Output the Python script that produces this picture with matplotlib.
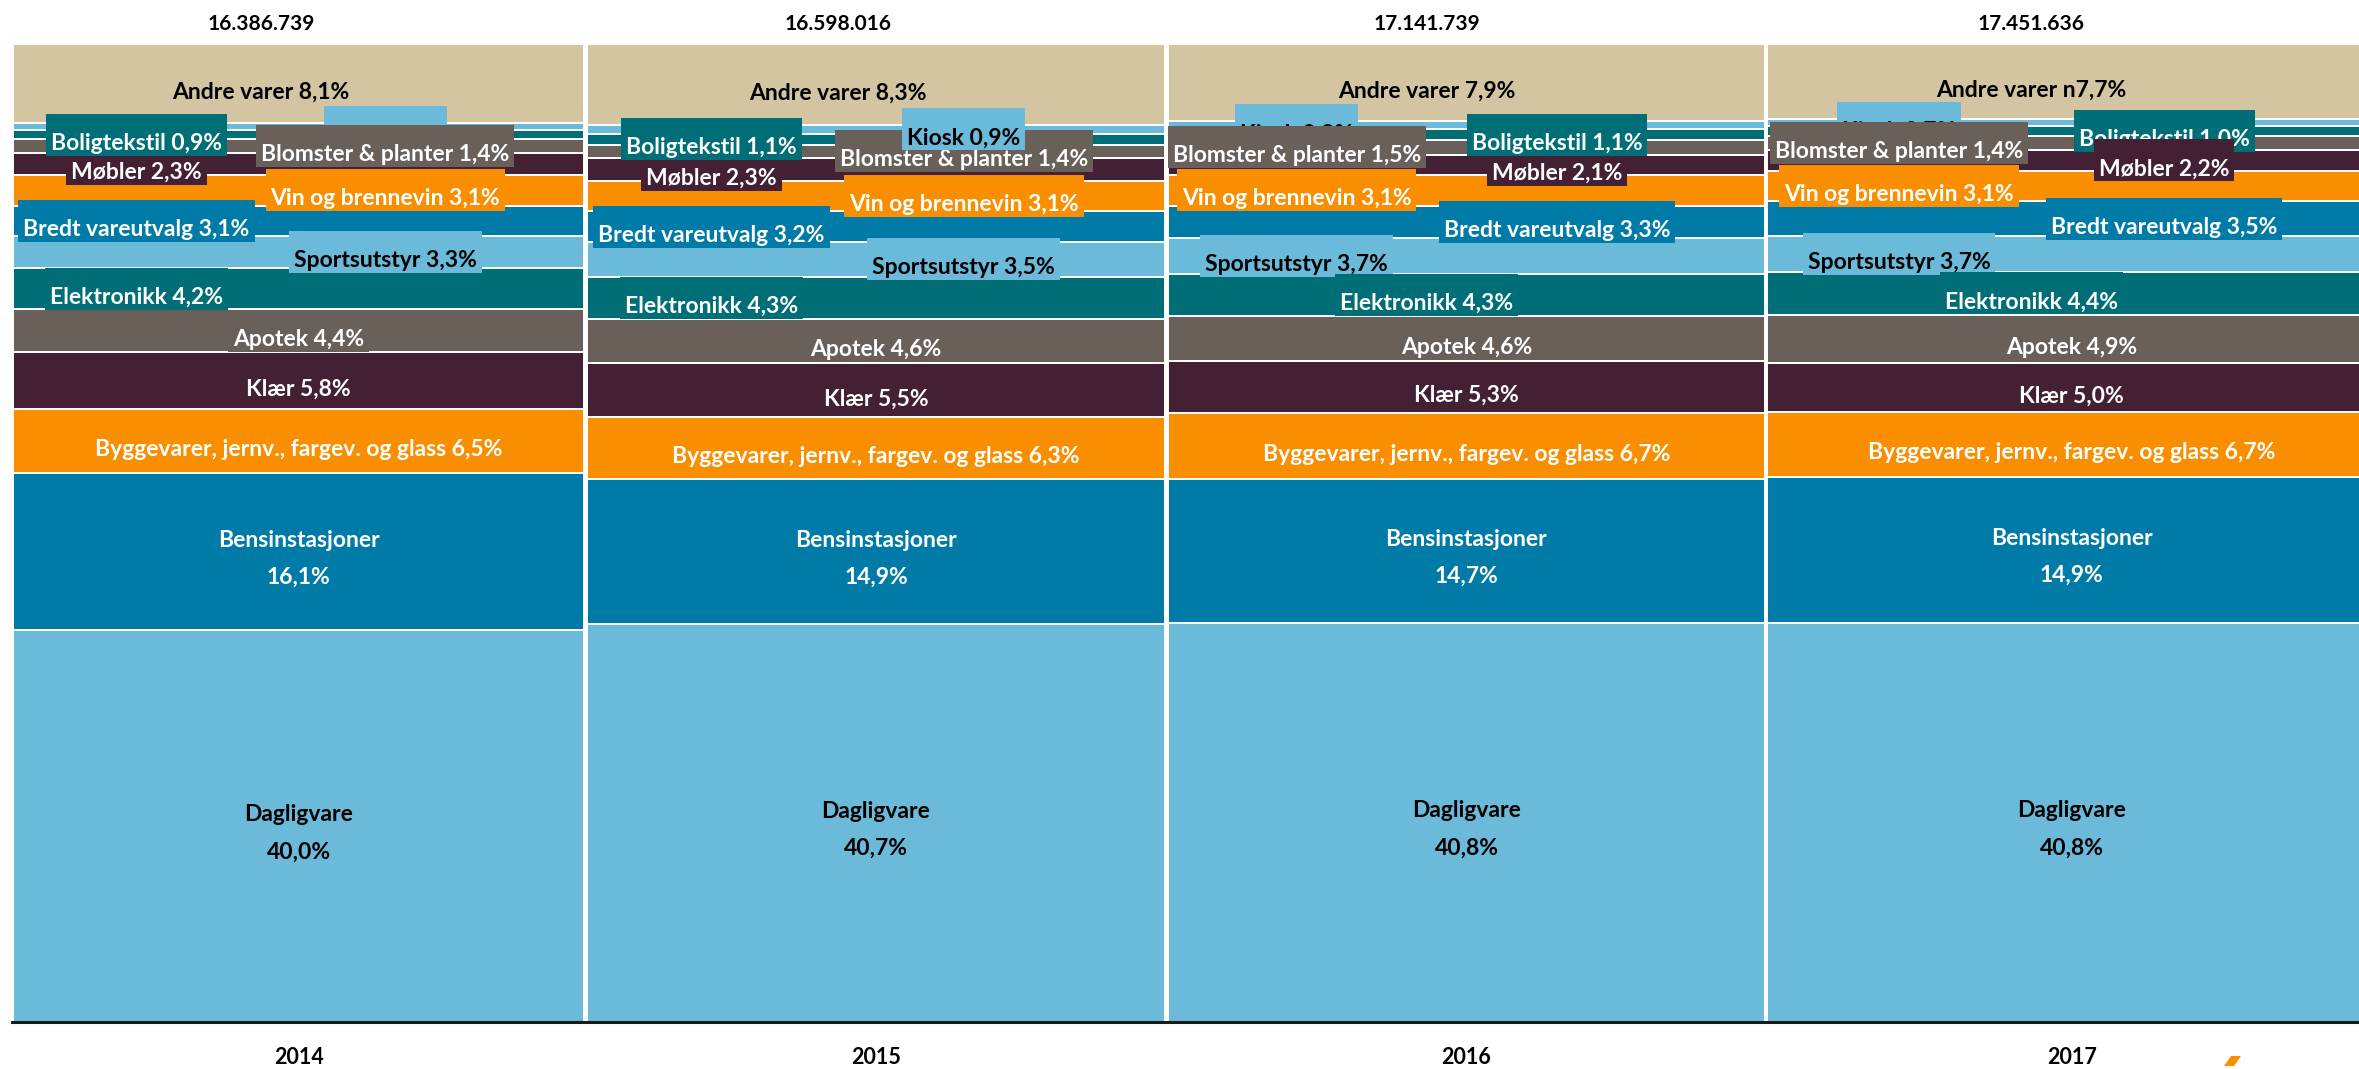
import matplotlib.pyplot as plt
from matplotlib.patches import Polygon, Rectangle
import numpy as np

# Data
years = ['2014', '2015', '2016', '2017']
totals = [16386739, 16598016, 17141739, 17451636]
total_labels = ['16.386.739', '16.598.016', '17.141.739', '17.451.636']

categories = ['Dagligvare', 'Bensinstasjoner', 'Byggevarer, jernv., fargev. og glass', 'Klær',
              'Apotek', 'Elektronikk', 'Sportsutstyr', 'Bredt vareutvalg', 'Vin og brennevin',
              'Møbler', 'Blomster & planter', 'Boligtekstil', 'Kiosk', 'Andre varer']

shares_2014 = [40.0, 16.1, 6.5, 5.8, 4.4, 4.2, 3.3, 3.1, 3.1, 2.3, 1.4, 0.9, 0.7, 8.1]
shares_2015 = [40.7, 14.9, 6.3, 5.5, 4.6, 4.3, 3.5, 3.2, 3.1, 2.3, 1.4, 1.1, 0.9, 8.3]
shares_2016 = [40.8, 14.7, 6.7, 5.3, 4.6, 4.3, 3.7, 3.3, 3.1, 2.1, 1.5, 1.1, 0.8, 7.9]
shares_2017 = [40.8, 14.9, 6.7, 5.0, 4.9, 4.4, 3.7, 3.5, 3.1, 2.2, 1.4, 1.0, 0.7, 7.7]
shares = [shares_2014, shares_2015, shares_2016, shares_2017]

# label text overrides (typo kept from the original)
name_override = {('2017', 'Andre varer'): 'Andre varer n'}

# Style
light_blue = '#6BBAD9'
blue = '#007AA7'
orange = '#F88E00'
purple = '#432034'
grey = '#6A605A'
teal = '#006E76'
beige = '#D3C5A1'
colors = [light_blue, blue, orange, purple, grey, teal, light_blue, blue, orange,
          purple, grey, teal, light_blue, beige]
dark_text = {'Dagligvare', 'Sportsutstyr', 'Kiosk', 'Andre varer'}
two_line = {'Dagligvare', 'Bensinstasjoner'}

# label placement: M = middle of column, C = shifted centre, L/R = left/right
sides_a = ['M', 'M', 'M', 'M', 'M', 'L', 'R', 'L', 'R', 'L', 'R', 'L', 'R', 'C']
sides_b = ['M', 'M', 'M', 'M', 'M', 'C', 'L', 'R', 'L', 'R', 'L', 'R', 'L', 'C']
sides = [sides_a, sides_a, sides_b, sides_b]
# labels drawn above their overlapping neighbours
label_on_top = {'2014': ['Boligtekstil'], '2015': ['Boligtekstil', 'Kiosk'],
                '2016': ['Boligtekstil'], '2017': []}

W, H = 2359, 1069
fig = plt.figure(figsize=(W / 100, H / 100), dpi=100)
ax_left, ax_right, ax_top, ax_bottom = 12, 2359, 44, 1022
ax = fig.add_axes([ax_left / W, 1 - ax_bottom / H, (ax_right - ax_left) / W, (ax_bottom - ax_top) / H])

font = ['Lato', 'DejaVu Sans']
fs = 16.5
px_per_unit = 35.0  # pixels per million
xmax = (ax_right - ax_left) / px_per_unit
ax.set_xlim(0, xmax)
ax.set_ylim(0, 100)
ypx = 100 / (ax_bottom - ax_top)  # data units per pixel (y)
xpx = 1 / px_per_unit


def py(pix):
    # figure pixel (from top) -> data y
    return (ax_bottom - pix) * ypx


widths = np.array(totals) / 1e6
starts = np.concatenate([[0], np.cumsum(widths)[:-1]])

boxed = []
for j, year in enumerate(years):
    vals = np.array(shares[j])
    vals = vals / vals.sum() * 100
    bottoms = np.concatenate([[0], np.cumsum(vals)[:-1]])
    x0 = starts[j]
    w = widths[j]
    ax.bar(x0 + 0.03, vals, width=w - 0.06, bottom=bottoms, align='edge',
           color=colors, edgecolor='white', linewidth=1.4, zorder=2)

    centre = x0 + w / 2
    shift = -0.066 * w
    side_off = 0.217 * w
    for i, cat in enumerate(categories):
        s = sides[j][i]
        if s == 'M':
            lx = centre
        elif s == 'C':
            lx = centre + shift
        elif s == 'L':
            lx = centre + shift - side_off
        else:
            lx = centre + shift + side_off
        ly = bottoms[i] + vals[i] / 2
        pct = '{:.1f}%'.format(shares[j][i]).replace('.', ',')
        tcol = 'black' if cat in dark_text else 'white'
        kw = dict(ha='center', va='baseline', color=tcol, fontsize=fs,
                  fontweight='bold', family=font)
        if cat in two_line:
            ax.text(lx, ly + 5 * ypx, cat, zorder=10, **kw)
            ax.text(lx, ly - 32 * ypx, pct, zorder=10, **kw)
            continue
        name = name_override.get((year, cat), cat + ' ')
        z = 10 + (len(categories) - i) * 0.01
        if cat in label_on_top[year]:
            z += 1
        t = ax.text(lx, ly - 15 * ypx, name + pct, zorder=z, **kw)
        boxed.append((t, lx, ly, colors[i], z))

    # total on top and year below
    ax.text(centre + shift, py(24), total_labels[j], ha='center', va='center',
            fontsize=15, fontweight='bold', family=font, color='black', clip_on=False)
    ax.text(centre, py(1058), year, ha='center', va='center',
            fontsize=15.5, fontweight='bold', family=font, color='black', clip_on=False)

# label boxes in the segment colour, sized from the rendered text
renderer = fig.canvas.get_renderer()
pad_x, box_h = 5, 42
for t, lx, ly, col, z in boxed:
    tw = t.get_window_extent(renderer).width
    bw = (tw + 2 * pad_x) * xpx
    ax.add_patch(Rectangle((lx - bw / 2, ly - box_h / 2 * ypx), bw, box_h * ypx,
                           facecolor=col, edgecolor='none', zorder=z - 0.005))

ax.axhline(0, color='#1a1a1a', linewidth=2.2, zorder=5, clip_on=False)
for sp in ax.spines.values():
    sp.set_visible(False)
ax.set_xticks([])
ax.set_yticks([])

# small orange logo fragment in the corner
pts = [(2224, 1066), (2231, 1056), (2241, 1056), (2234, 1066)]
fig.patches.append(Polygon([(x / W, 1 - y / H) for x, y in pts], closed=True,
                           facecolor=orange, edgecolor='none', transform=fig.transFigure))

fig.savefig('out.png', dpi=100, facecolor='white')
